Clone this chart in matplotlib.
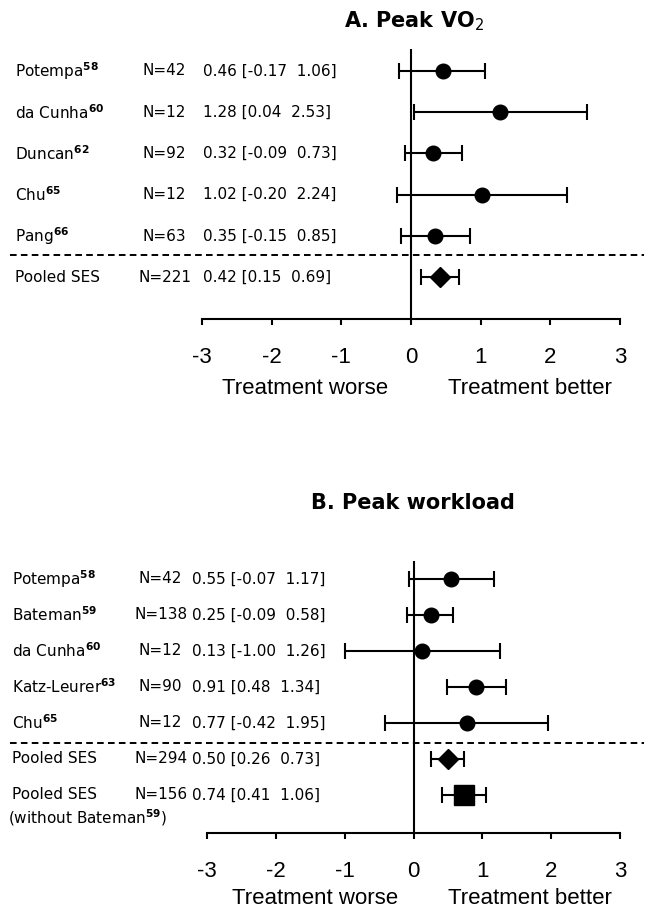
"""Forest plots of exercise effect sizes: peak VO2 and peak workload."""

from __future__ import annotations

import matplotlib

matplotlib.use("Agg")

import matplotlib.pyplot as plt
import matplotlib.transforms as mtransforms
from matplotlib.lines import Line2D
import numpy as np


FIG_W, FIG_H = 648, 916
DPI = 100

# Panel A: peak VO2
VO2_STUDIES = ["Potempa", "da Cunha", "Duncan", "Chu", "Pang"]
VO2_REFS = ["58", "60", "62", "65", "66"]
VO2_N = [42, 12, 92, 12, 63]
VO2_EST = [0.46, 1.28, 0.32, 1.02, 0.35]
VO2_LO = [-0.17, 0.04, -0.09, -0.20, -0.15]
VO2_HI = [1.06, 2.53, 0.73, 2.24, 0.85]

VO2_POOLED_N = [221]
VO2_POOLED_EST = [0.42]
VO2_POOLED_LO = [0.15]
VO2_POOLED_HI = [0.69]

# Panel B: peak workload
WL_STUDIES = ["Potempa", "Bateman", "da Cunha", "Katz-Leurer", "Chu"]
WL_REFS = ["58", "59", "60", "63", "65"]
WL_N = [42, 138, 12, 90, 12]
WL_EST = [0.55, 0.25, 0.13, 0.91, 0.77]
WL_LO = [-0.07, -0.09, -1.00, 0.48, -0.42]
WL_HI = [1.17, 0.58, 1.26, 1.34, 1.95]

WL_POOLED_N = [294, 156]
WL_POOLED_EST = [0.50, 0.74]
WL_POOLED_LO = [0.26, 0.41]
WL_POOLED_HI = [0.73, 1.06]

X_TICKS = [-3, -2, -1, 0, 1, 2, 3]

ROW_FONT = {"family": "DejaVu Sans", "size": 11}
AXIS_FONT = "Liberation Sans"


def fx(px: float) -> float:
    return px / FIG_W


def fy(py: float) -> float:
    return 1 - py / FIG_H


def sup(name: str, ref: str) -> str:
    return name + r"$^{\mathbf{" + ref + "}}$"


def ci_text(est: float, lo: float, hi: float) -> str:
    return f"{est:.2f} [{lo:.2f}  {hi:.2f}]"


def n_offset(value: int) -> int:
    # three-digit counts start a little further left, as in the source figure
    return -5 if value >= 100 else 0


def draw_panel(fig, box, ylim, layout, studies, refs, n, est, lo, hi,
               pooled_n, pooled_est, pooled_lo, pooled_hi, pooled_markers):
    left, top, right, bottom = box
    ax = fig.add_axes([fx(left), fy(bottom), fx(right) - fx(left), fy(top) - fy(bottom)])
    ax.set_xlim(-3, 3)
    ax.set_ylim(*ylim)

    rows = np.arange(len(studies))
    pooled_rows = len(studies) + np.arange(len(pooled_est))

    est = np.asarray(est)
    err = np.vstack([est - np.asarray(lo), np.asarray(hi) - est])
    ax.errorbar(est, rows, xerr=err, fmt="o", color="black", ms=10.5,
                elinewidth=1.5, capsize=6, capthick=1.5, clip_on=False, zorder=3)

    for i, marker in enumerate(pooled_markers):
        e = pooled_est[i]
        perr = [[e - pooled_lo[i]], [pooled_hi[i] - e]]
        ms = 10 if marker == "D" else 14
        ax.errorbar([e], [pooled_rows[i]], xerr=perr, fmt=marker, color="black", ms=ms,
                    elinewidth=1.5, capsize=5.5, capthick=1.5, clip_on=False, zorder=3)

    ax.axvline(0, color="black", lw=1.5, zorder=2)

    for s in ["top", "right", "left"]:
        ax.spines[s].set_visible(False)
    ax.spines["bottom"].set_linewidth(1.5)
    ax.set_yticks([])
    ax.set_xticks(X_TICKS)
    ax.set_xticklabels([str(t) for t in X_TICKS], family=AXIS_FONT, fontsize=16)
    ax.tick_params(axis="x", direction="out", length=4.5, width=1.5, pad=16)

    trans = mtransforms.blended_transform_factory(fig.transFigure, ax.transData)
    name_x, n_x, ci_x = layout["cols"]
    for i, r in enumerate(rows):
        ax.text(fx(name_x), r, sup(studies[i], refs[i]), transform=trans, va="center", **ROW_FONT)
        ax.text(fx(n_x + n_offset(n[i])), r, f"N={n[i]}", transform=trans, va="center", **ROW_FONT)
        ax.text(fx(ci_x), r, ci_text(est[i], lo[i], hi[i]), transform=trans, va="center", **ROW_FONT)
    for i, r in enumerate(pooled_rows):
        ax.text(fx(name_x), r, "Pooled SES", transform=trans, va="center", **ROW_FONT)
        ax.text(fx(n_x + n_offset(pooled_n[i])), r, f"N={pooled_n[i]}", transform=trans,
                va="center", **ROW_FONT)
        ax.text(fx(ci_x), r, ci_text(pooled_est[i], pooled_lo[i], pooled_hi[i]),
                transform=trans, va="center", **ROW_FONT)

    dash_y = layout["dash_y"]
    fig.add_artist(Line2D([fx(10), fx(644)], [dash_y, dash_y], transform=trans,
                          color="black", lw=1.4, dashes=(3.4, 2.2)))

    title_x, title_y = layout["title"]
    fig.text(fx(title_x), fy(title_y), layout["title_text"], ha="center", va="center",
             family="DejaVu Sans", weight="bold", fontsize=15)

    lab_y = layout["label_y"]
    worse_x, better_x = layout["label_x"]
    fig.text(fx(worse_x), fy(lab_y), "Treatment worse", ha="center", va="center",
             family=AXIS_FONT, fontsize=16)
    fig.text(fx(better_x), fy(lab_y), "Treatment better", ha="center", va="center",
             family=AXIS_FONT, fontsize=16)
    return ax, trans


def main() -> None:
    fig = plt.figure(figsize=(FIG_W / DPI, FIG_H / DPI), dpi=DPI)

    draw_panel(
        fig, (202, 49, 620, 319), (6.01, -0.53),
        {"cols": (15, 143, 203), "dash_y": 4.46, "title": (414, 21),
         "title_text": r"A. Peak VO$_2$", "label_y": 388, "label_x": (305, 530)},
        VO2_STUDIES, VO2_REFS, VO2_N, VO2_EST, VO2_LO, VO2_HI,
        VO2_POOLED_N, VO2_POOLED_EST, VO2_POOLED_LO, VO2_POOLED_HI, ["D"],
    )

    ax_b, trans_b = draw_panel(
        fig, (207, 561, 620, 833), (7.06, -0.5),
        {"cols": (12, 139, 192), "dash_y": 4.56, "title": (413, 503),
         "title_text": "B. Peak workload", "label_y": 899, "label_x": (315, 530)},
        WL_STUDIES, WL_REFS, WL_N, WL_EST, WL_LO, WL_HI,
        WL_POOLED_N, WL_POOLED_EST, WL_POOLED_LO, WL_POOLED_HI, ["D", "s"],
    )
    ax_b.text(fx(8), 6.64, "(without " + sup("Bateman", "59") + ")", transform=trans_b,
              va="center", **ROW_FONT)

    fig.savefig("out.png", dpi=DPI)
    plt.close(fig)


if __name__ == "__main__":
    main()
